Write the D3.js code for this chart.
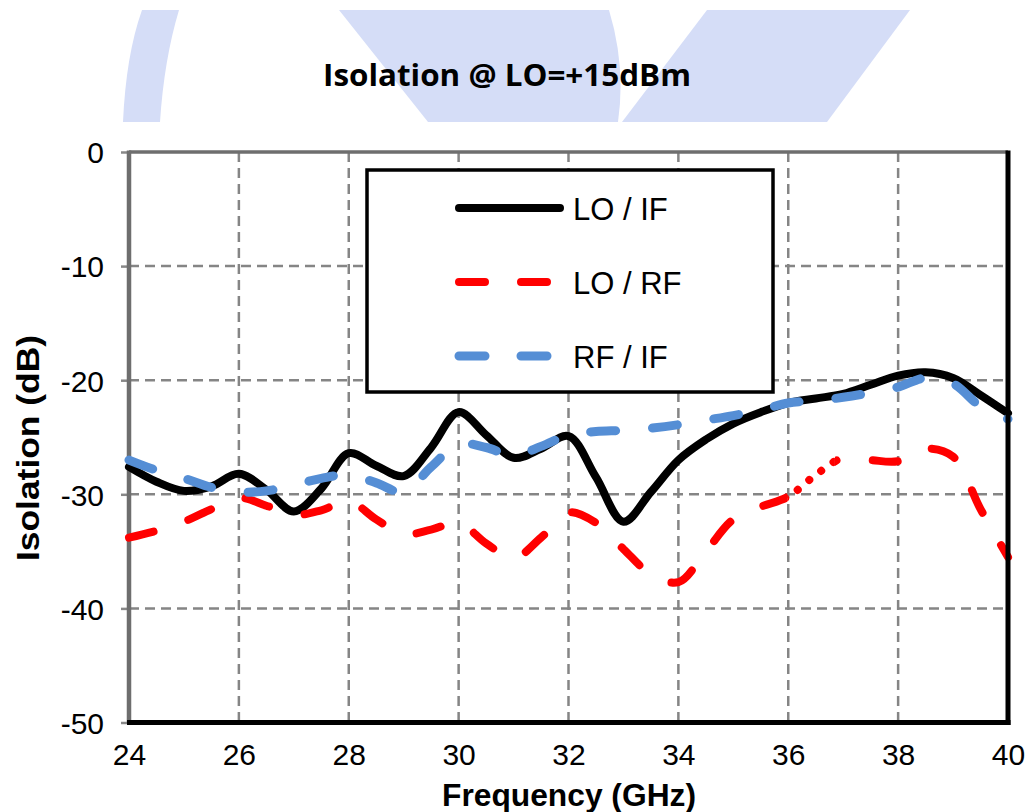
<!DOCTYPE html>
<html>
<head>
<meta charset="utf-8">
<script src="https://cdn.jsdelivr.net/npm/d3@7"></script>
<style>
  html, body { margin: 0; padding: 0; background: #fff; }
  svg { display: block; }
</style>
</head>
<body>
<script>
// ---------- data ----------
const freq = [24, 24.5, 25, 25.5, 26, 26.5, 27, 27.5, 28, 28.5, 29, 29.5, 30, 30.5, 31, 31.5, 32,
              32.5, 33, 33.5, 34, 34.5, 35, 35.5, 36, 36.5, 37, 37.5, 38, 38.5, 39, 39.5, 40];
const loIF = [-27.6, -28.9, -29.7, -29.3, -28.2, -29.6, -31.5, -29.5, -26.4, -27.5, -28.4, -25.9, -22.8,
              -24.8, -26.8, -26.0, -24.9, -28.5, -32.4, -29.8, -27.0, -25.2, -23.8, -22.8, -22.0, -21.6,
              -21.2, -20.4, -19.6, -19.3, -19.8, -21.3, -22.9];
const loRF = [-33.8, -33.2, -32.4, -31.3, -30.3, -31.0, -31.8, -31.4, -30.6, -32.2, -33.5, -33.1, -32.5,
              -34.3, -35.6, -33.8, -31.6, -32.5, -34.8, -37.0, -37.7, -35.0, -32.2, -31.1, -30.2, -28.3,
              -26.8, -27.0, -27.1, -26.0, -26.7, -31.3, -35.5];
const rfIF = [-27.0, -27.9, -28.6, -29.4, -29.8, -29.7, -29.2, -28.6, -28.3, -29.0, -29.8, -27.6, -25.6,
              -25.9, -26.6, -25.8, -24.8, -24.5, -24.4, -24.2, -23.9, -23.5, -23.1, -22.6, -22.0, -21.8,
              -21.5, -21.1, -20.6, -19.8, -20.3, -22.3, -23.4];
const seriesNames = ["LO / IF", "LO / RF", "RF / IF"];
const xTicks = [24, 26, 28, 30, 32, 34, 36, 38, 40];
const yTicks = [0, -10, -20, -30, -40, -50];
const title = "Isolation @ LO=+15dBm";
const xTitle = "Frequency (GHz)";
const yTitle = "Isolation (dB)";
const dottedRange = [35.98, 36.85]; // part of LO / RF drawn as dots

// ---------- layout ----------
const W = 1030, H = 812;
const L = 129, R = 1008, T = 152, B = 722.5;
const SANS = "'Liberation Sans', Arial, sans-serif";

const svg = d3.select("body").append("svg").attr("width", W).attr("height", H)
  .attr("font-family", SANS);

// background logo band
const bg = svg.append("g").attr("fill", "#d5ddf7");
bg.append("path").attr("d", "M142,10 L179,10 Q164,60 160,122 L123,122 Q126,55 142,10 Z");
bg.append("path").attr("d", "M339,10 L609,10 Q626,66 618,122 L428,122 Z");
bg.append("path").attr("d", "M707,10 L910,10 L827,122 L622,122 Z");

// title
svg.append("text").attr("x", 507).attr("y", 86).attr("text-anchor", "middle")
  .attr("font-family", "'Open Sans', sans-serif").attr("font-weight", "bold")
  .attr("font-size", 31).attr("textLength", 368).attr("lengthAdjust", "spacingAndGlyphs")
  .text(title);

const x = d3.scaleLinear().domain([24, 40]).range([L, R]);
const y = d3.scaleLinear().domain([-50, 0]).range([B, T]);

// grid
const grid = svg.append("g").attr("stroke", "#858585").attr("stroke-width", 2.5)
  .attr("stroke-dasharray", "10,6");
grid.selectAll("line.v").data(xTicks.slice(1, -1)).join("line")
  .attr("x1", d => x(d)).attr("x2", d => x(d)).attr("y1", T).attr("y2", B);
grid.selectAll("line.h").data(yTicks.slice(1, -1)).join("line")
  .attr("y1", d => y(d)).attr("y2", d => y(d)).attr("x1", L).attr("x2", R);

// axes
const fmt = d => String(d);
const yAxis = svg.append("g").attr("transform", `translate(${L},0)`)
  .call(d3.axisLeft(y).tickValues(yTicks).tickSize(8).tickPadding(17).tickFormat(fmt));
yAxis.select(".domain").remove();
yAxis.selectAll(".tick line").attr("stroke", "#888").attr("stroke-width", 2.5);
yAxis.selectAll(".tick text").attr("font-size", 30).attr("fill", "#000")
  .attr("font-family", SANS).attr("dy", "0.36em");

const xAxis = svg.append("g").attr("transform", `translate(0,${B})`)
  .call(d3.axisBottom(x).tickValues(xTicks).tickSize(0).tickPadding(21).tickFormat(fmt));
xAxis.select(".domain").remove();
xAxis.selectAll(".tick text").attr("font-size", 30).attr("fill", "#000")
  .attr("font-family", SANS);

// frame
svg.append("line").attr("x1", L).attr("x2", R).attr("y1", T).attr("y2", T)
  .attr("stroke", "#6e6e6e").attr("stroke-width", 3.5);
svg.append("line").attr("x1", L).attr("x2", L).attr("y1", T - 1.5).attr("y2", B)
  .attr("stroke", "#6e6e6e").attr("stroke-width", 4.5);

// series
const line = d3.line().x((d, i) => x(freq[i])).y(d => y(d)).curve(d3.curveCatmullRom.alpha(0.5));
const defs = svg.append("defs");
defs.append("clipPath").attr("id", "outDots").selectAll("rect")
  .data([[L - 10, x(dottedRange[0])], [x(dottedRange[1]), R + 10]]).join("rect")
  .attr("x", d => d[0]).attr("width", d => d[1] - d[0]).attr("y", 0).attr("height", H);
defs.append("clipPath").attr("id", "inDots").append("rect")
  .attr("x", x(dottedRange[0])).attr("width", x(dottedRange[1]) - x(dottedRange[0]))
  .attr("y", 0).attr("height", H);

svg.append("path").attr("d", line(loIF)).attr("fill", "none").attr("stroke", "#000")
  .attr("stroke-width", 8).attr("stroke-linecap", "round").attr("stroke-linejoin", "round");
svg.append("path").attr("d", line(loRF)).attr("fill", "none").attr("stroke", "#ff0000")
  .attr("stroke-width", 8).attr("stroke-linecap", "round").attr("stroke-dasharray", "25,37")
  .attr("clip-path", "url(#outDots)");
svg.append("path").attr("d", line(loRF)).attr("fill", "none").attr("stroke", "#ff0000")
  .attr("stroke-width", 8).attr("stroke-linecap", "round").attr("stroke-dasharray", "0.1,15")
  .attr("stroke-dashoffset", 3).attr("clip-path", "url(#inDots)");
svg.append("path").attr("d", line(rfIF)).attr("fill", "none").attr("stroke", "#558ed5")
  .attr("stroke-width", 9).attr("stroke-linecap", "round").attr("stroke-dasharray", "25,37");

// right & bottom frame (black)
svg.append("line").attr("x1", R).attr("x2", R).attr("y1", T - 1.5).attr("y2", B + 2.5)
  .attr("stroke", "#000").attr("stroke-width", 5);
svg.append("line").attr("x1", L - 2).attr("x2", R + 2.5).attr("y1", B).attr("y2", B)
  .attr("stroke", "#000").attr("stroke-width", 5);

// legend
const lg = svg.append("g");
lg.append("rect").attr("x", 367).attr("y", 170).attr("width", 406).attr("height", 222)
  .attr("fill", "#fff").attr("stroke", "#000").attr("stroke-width", 3.5);
const legStyles = [
  { color: "#000", dash: null, w: 8 },
  { color: "#ff0000", dash: "26,36", w: 8 },
  { color: "#558ed5", dash: "26,36", w: 9 }
];
const legY = [208, 282, 356];
seriesNames.forEach((name, i) => {
  const s = legStyles[i];
  lg.append("line").attr("x1", 459).attr("x2", 560 - (s.dash ? 12 : 0))
    .attr("y1", legY[i]).attr("y2", legY[i]).attr("stroke", s.color).attr("stroke-width", s.w)
    .attr("stroke-linecap", "round").attr("stroke-dasharray", s.dash);
  lg.append("text").attr("x", 573).attr("y", legY[i] + 12).attr("font-size", 31)
    .attr("fill", "#000").text(name);
});

// axis titles
svg.append("text").attr("x", 569).attr("y", 806).attr("text-anchor", "middle")
  .attr("font-weight", "bold").attr("font-size", 31)
  .attr("textLength", 254).attr("lengthAdjust", "spacingAndGlyphs").text(xTitle);
svg.append("text").attr("transform", "translate(39,448) rotate(-90)").attr("text-anchor", "middle")
  .attr("font-weight", "bold").attr("font-size", 32)
  .attr("textLength", 226).attr("lengthAdjust", "spacingAndGlyphs").text(yTitle);
</script>
</body>
</html>
